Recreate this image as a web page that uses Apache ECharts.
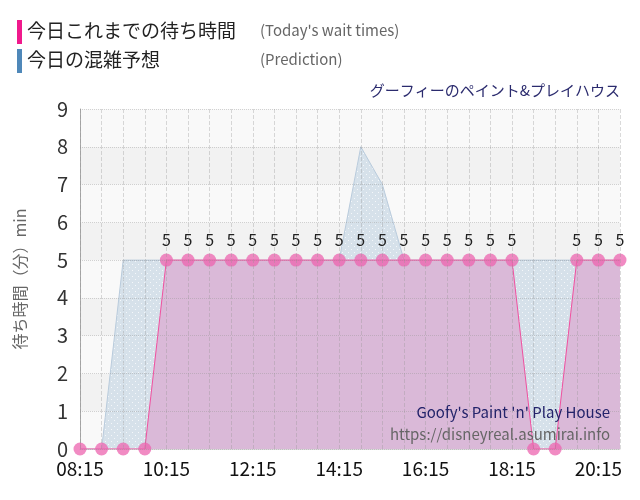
<!DOCTYPE html>
<html>
<head>
<meta charset="utf-8">
<script src="https://cdn.jsdelivr.net/npm/echarts@6/dist/echarts.min.js"></script>
<style>
html,body{margin:0;padding:0;background:#fff;}
#main{width:640px;height:500px;}
</style>
</head>
<body>
<div id="main"></div>
<script>
// 時刻（30分ごと）
var times = ['08:15','08:45','09:15','09:45','10:15','10:45','11:15','11:45','12:15','12:45',
	'13:15','13:45','14:15','14:45','15:15','15:45','16:15','16:45','17:15','17:45',
	'18:15','18:45','19:15','19:45','20:15','20:45'];
// 今日これまでの待ち時間
var waitTimes = [0,0,0,0,5,5,5,5,5,5, 5,5,5,5,5,5,5,5,5,5, 5,0,0,5,5,5];
// 今日の混雑予想
var prediction = [0,0,5,5,5,5,5,5,5,5, 5,5,5,8,7,5,5,5,5,5, 5,5,5,5,5,5];
var yTicks = [0,1,2,3,4,5,6,7,8,9];

var FONT = '"Noto Sans CJK JP", "DejaVu Sans", sans-serif';

// 予想エリアの点模様
function dotPattern() {
	var c = document.createElement('canvas');
	c.width = 6; c.height = 6;
	var ctx = c.getContext('2d');
	ctx.fillStyle = '#d6e1ea';
	ctx.fillRect(0, 0, 6, 6);
	ctx.fillStyle = '#f4f7fa';
	ctx.fillRect(0, 0, 1, 1);
	ctx.fillRect(3, 3, 1, 1);
	return c;
}

var myChart = echarts.init(document.getElementById('main'));

var gridLineX = { show: true, interval: 0, lineStyle: { color: 'rgba(150,150,150,0.35)', type: 'dashed' } };
var gridLineY = { show: true, lineStyle: { color: 'rgba(150,150,150,0.4)', type: 'dotted' } };

var option = {
	animation: false,
	textStyle: { fontFamily: FONT },
	grid: { left: 80, right: 20, top: 109, bottom: 51 },
	graphic: [
		{ type: 'rect', left: 17, top: 20, shape: { width: 5, height: 24 }, style: { fill: '#f0198c' } },
		{ type: 'text', left: 27, top: 21, style: { text: '今日これまでの待ち時間', fontSize: 19, fill: '#222', fontFamily: FONT } },
		{ type: 'text', left: 260, top: 23, style: { text: "(Today's wait times)", fontSize: 15, fill: '#666', fontFamily: FONT } },
		{ type: 'rect', left: 17, top: 49, shape: { width: 5, height: 24 }, style: { fill: '#4f88b9' } },
		{ type: 'text', left: 27, top: 50, style: { text: '今日の混雑予想', fontSize: 19, fill: '#222', fontFamily: FONT } },
		{ type: 'text', left: 260, top: 52, style: { text: '(Prediction)', fontSize: 15, fill: '#666', fontFamily: FONT } },
		{ type: 'text', right: 20, top: 83, style: { text: 'グーフィーのペイント&プレイハウス', fontSize: 15, fill: '#2b2b6e', fontFamily: FONT } },
		{ type: 'text', right: 30, top: 405, z: 100, style: { text: "Goofy's Paint 'n' Play House", fontSize: 15, fill: '#23236a', fontFamily: FONT } },
		{ type: 'text', right: 30, top: 427, z: 100, style: { text: 'https://disneyreal.asumirai.info', fontSize: 15, fill: '#666', fontFamily: FONT } }
	],
	xAxis: [{
		type: 'category',
		data: times,
		boundaryGap: false,
		axisLine: { show: true, lineStyle: { color: '#ddd' } },
		axisTick: { show: false },
		axisLabel: { interval: 3, color: '#111', fontSize: 19, margin: 10 },
		splitLine: { show: false }
	}, {
		// 罫線を系列の上に重ねる
		type: 'category',
		data: times,
		boundaryGap: false,
		position: 'bottom',
		z: 5,
		axisLine: { show: false },
		axisTick: { show: false },
		axisLabel: { show: false },
		splitLine: gridLineX
	}],
	yAxis: [{
		type: 'value',
		min: yTicks[0],
		max: yTicks[yTicks.length - 1],
		interval: 1,
		name: '待ち時間（分）min',
		nameLocation: 'middle',
		nameGap: 52,
		nameTextStyle: { color: '#666', fontSize: 16 },
		axisLine: { show: true, lineStyle: { color: '#aaa' } },
		axisTick: { show: false },
		axisLabel: { color: '#333', fontSize: 20, margin: 12 },
		splitLine: { show: false },
		splitArea: { show: true, areaStyle: { color: ['#f9f9f9', '#f2f2f2'] } }
	}, {
		type: 'value',
		min: yTicks[0],
		max: yTicks[yTicks.length - 1],
		interval: 1,
		position: 'left',
		z: 5,
		axisLine: { show: false },
		axisTick: { show: false },
		axisLabel: { show: false },
		splitLine: gridLineY
	}],
	series: [
		{
			name: '今日の混雑予想',
			type: 'line',
			data: prediction,
			symbol: 'none',
			lineStyle: { color: '#b9cbdc', width: 1 },
			areaStyle: { color: { image: dotPattern(), repeat: 'repeat' }, opacity: 1 },
			z: 2
		},
		{
			name: '今日これまでの待ち時間',
			type: 'line',
			data: waitTimes,
			symbol: 'circle',
			symbolSize: 13,
			itemStyle: { color: 'rgba(236,100,175,0.75)' },
			lineStyle: { color: '#f0509f', width: 1 },
			areaStyle: { color: '#dab9d8', opacity: 1 },
			label: {
				show: true,
				position: 'top',
				distance: 6,
				color: '#222',
				fontSize: 16,
				formatter: function (p) { return p.value > 0 ? p.value : ''; }
			},
			z: 3
		}
	]
};
myChart.setOption(option);
</script>
</body>
</html>
